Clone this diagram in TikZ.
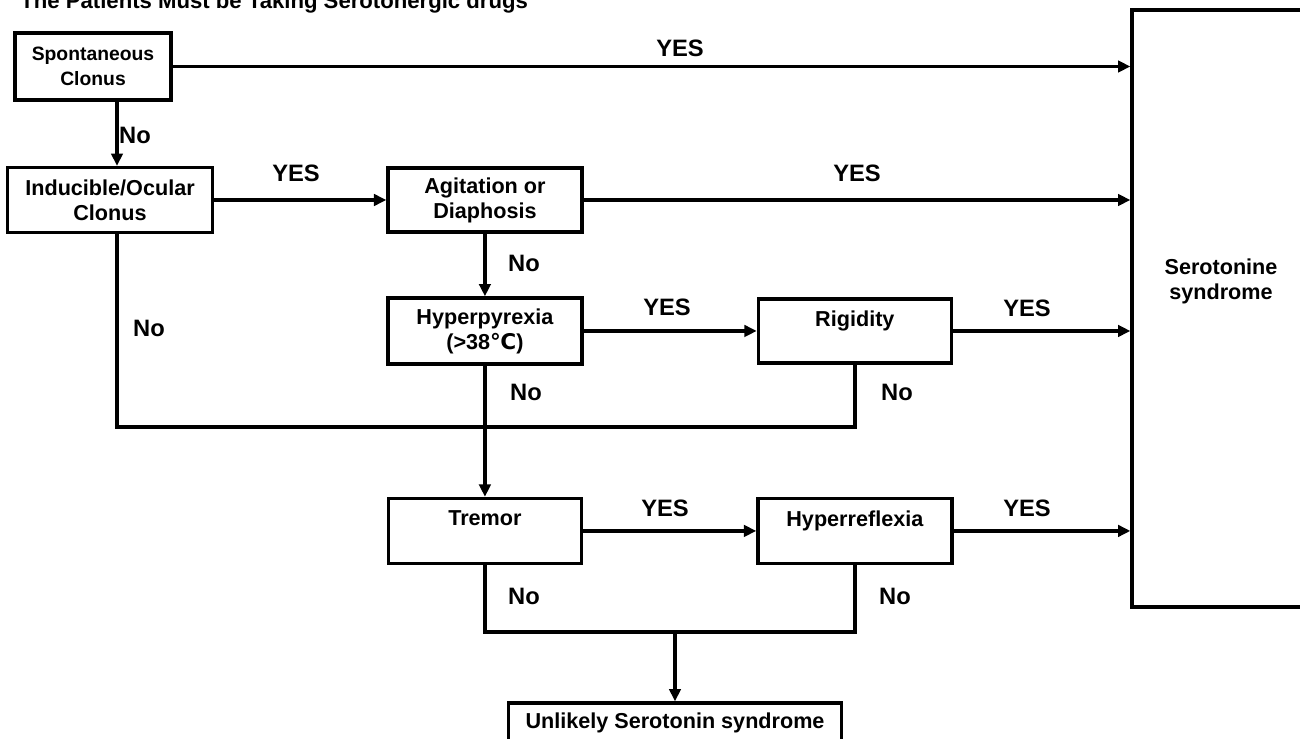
\documentclass[tikz,border=0pt]{standalone}
\usepackage{fontspec}
\setmainfont{Liberation Sans}
\newfontfamily\degfont{DejaVu Sans}
\usetikzlibrary{arrows.meta}

\tikzset{
  box/.style={draw, rectangle, line width=1.9pt, align=center, inner sep=0pt,
    font=\fontsize{12.3}{14.2}\selectfont\bfseries},
  lbl/.style={font=\fontsize{13.5}{16}\selectfont\bfseries},
  arr/.style={line width=1.9pt, -{Triangle[length=7pt,width=6.5pt]}},
  ln/.style={line width=1.9pt}
}

\begin{document}
\begin{tikzpicture}[x=0.02cm, y=-0.02cm]
        \clip (0,0) rectangle (1300,739);

        \node[anchor=base west, inner sep=0pt, font=\fontsize{12.6}{15}\selectfont\bfseries](TITLE) at (20,9){The Patients Must be Taking Serotonergic drugs};

        \node[box, minimum width=4.1cm, minimum height=1.3cm](INDUC) at (110,200){Inducible/Ocular\\Clonus};
        \node[box, minimum width=3.12cm, minimum height=1.34cm, font=\fontsize{11}{14.2}\selectfont\bfseries](SPONT) at (93,66.5){Spontaneous\\Clonus};
        \coordinate (VX) at (117,0);

        \node[box, right of=INDUC, node distance=7.5cm, minimum width=3.88cm, minimum height=1.28cm](AGIT){Agitation or\\Diaphosis};
        \node[box, below of=AGIT, node distance=2.62cm, minimum width=3.88cm, minimum height=1.32cm](HYPER){Hyperpyrexia\\(>38{\degfont ℃})};
        \node[box, right of=HYPER, node distance=7.4cm, minimum width=3.86cm, minimum height=1.28cm](RIGID){Rigidity\\~};

        \node[box, below of=HYPER, node distance=4cm, minimum width=3.86cm, minimum height=1.3cm](TREM){Tremor\\~};
        \node[box, right of=TREM, node distance=7.4cm, minimum width=3.88cm, minimum height=1.3cm](HREFL){Hyperreflexia\\~};

        \node[box, minimum width=6.66cm, minimum height=0.8cm](UNLIK) at (675,723){Unlikely Serotonin syndrome};

        \node[box, minimum width=3.56cm, minimum height=11.94cm](SERO) at (1221,308.5){};
        \node[font=\fontsize{12.3}{14.2}\selectfont\bfseries, align=center](SEROT) at (1221,281){Serotonine\\syndrome};

        % yes branches
        \draw[arr] (SPONT.east) -- (SPONT.east -| SERO.west);
        \draw[arr] (INDUC) -- (AGIT);
        \draw[arr] (AGIT) -- (AGIT -| SERO.west);
        \draw[arr] (HYPER) -- (RIGID);
        \draw[arr] (RIGID) -- (RIGID -| SERO.west);
        \draw[arr] (TREM) -- (HREFL);
        \draw[arr] (HREFL) -- (HREFL -| SERO.west);

        % no branches
        \draw[arr] (SPONT.south -| VX) -- (INDUC.north -| VX);
        \draw[arr] (AGIT) -- (HYPER);

        \coordinate (J1) at (485,427);
        \draw[ln] (INDUC.south -| VX) -- (VX |- J1) -- (RIGID.south |- J1) -- (RIGID.south);
        \draw[arr] (HYPER) -- (TREM);

        \coordinate (J2) at (675,632);
        \draw[ln] (TREM.south) -- (TREM.south |- J2) -- (HREFL.south |- J2) -- (HREFL.south);
        \draw[arr] (J2) -- (UNLIK.north);

        \node[lbl](YES1) at (680,48){YES};
        \node[lbl](NO1) at (135,135){No};
        \node[lbl](YES2) at (296,173){YES};
        \node[lbl](YES3) at (857,173){YES};
        \node[lbl](NO2) at (524,263){No};
        \node[lbl](NO3) at (149,328){No};
        \node[lbl](YES4) at (667,307){YES};
        \node[lbl](YES5) at (1027,308){YES};
        \node[lbl](NO4) at (526,392){No};
        \node[lbl](NO5) at (897,392){No};
        \node[lbl](YES6) at (665,508){YES};
        \node[lbl](YES7) at (1027,508){YES};
        \node[lbl](NO6) at (524,596){No};
        \node[lbl](NO7) at (895,596){No};
    \end{tikzpicture}
\end{document}
